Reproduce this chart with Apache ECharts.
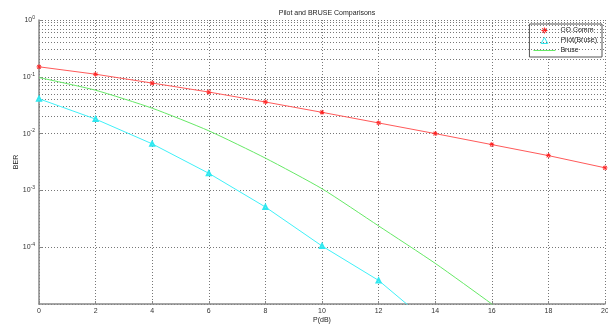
<!DOCTYPE html>
<html>
<head>
<meta charset="utf-8">
<script src="https://cdn.jsdelivr.net/npm/echarts@6/dist/echarts.min.js"></script>
<style>
  html, body { margin: 0; padding: 0; background: #fff; }
  #chart { width: 608px; height: 327px; }
</style>
</head>
<body>
<div id="chart"></div>
<script>
// values (BER vs P in dB)
const pCO = [0, 2, 4, 6, 8, 10, 12, 14, 16, 18, 20];
const berCO = [0.15, 0.111, 0.0776, 0.0539, 0.036, 0.0237, 0.0154, 0.0100, 0.0064, 0.0041, 0.0025];

const pPilot = [0, 2, 4, 6, 8, 10, 12, 14];
const berPilot = [0.041, 0.018, 0.0066, 0.0020, 5.1e-4, 1.05e-4, 2.6e-5, 3.8e-6];

const pBruse = [0, 2, 4, 6, 8, 10, 12, 14, 16, 18, 20];
const berBruse = [0.097, 0.058, 0.028, 0.0112, 0.0037, 1.07e-3, 2.37e-4, 5.2e-5, 1e-5, 1.8e-6, 3e-7];

const decades = [-5, -4, -3, -2, -1, 0];

const FONT = 'Liberation Sans';
const RED = '#ff2020';
const CYAN = '#30e8f0';
const GREEN = '#66e866';
const dotted = { color: '#777', width: 1, type: [1, 2] };
const asterisk = 'path://M-5,-0.8H5V0.8H-5Z M-0.8,-5H0.8V5H-0.8Z M-4.2,-3L-3,-4.2L4.2,3L3,4.2Z M4.2,-3L3,-4.2L-4.2,3L-3,4.2Z';
const triangle = 'path://M0,-5L5,4L-5,4Z';
const dash = 'path://M-11,-0.5H11V0.5H-11Z';

// minor log grid lines 2..9 x 10^k, like matlab's grid on
const minorLines = [];
decades.slice(0, -1).forEach(k => {
  for (let m = 2; m <= 9; m++) minorLines.push({ yAxis: m * Math.pow(10, k) });
});

const zip = (xs, ys) => xs.map((x, i) => [x, ys[i]]);

const chart = echarts.init(document.getElementById('chart'), null, { renderer: 'canvas' });
chart.setOption({
  animation: false,
  backgroundColor: '#fff',
  textStyle: { fontFamily: FONT },
  title: {
    text: 'Pilot and BRUSE Comparisons',
    left: 322,
    textAlign: 'center',
    top: 5,
    textStyle: { fontSize: 7, fontWeight: 'normal', color: '#222', fontFamily: FONT }
  },
  legend: {
    orient: 'vertical',
    right: 6,
    top: 24,
    padding: [3, 5, 3, 4],
    itemGap: 3,
    itemWidth: 22,
    itemHeight: 6,
    symbolKeepAspect: true,
    borderColor: '#555',
    borderWidth: 1,
    backgroundColor: '#fff',
    textStyle: { fontSize: 7, color: '#222', fontFamily: FONT },
    data: [
      { name: 'CO.Comm', icon: asterisk },
      { name: 'Pilot(Bruse)', icon: triangle, itemStyle: { color: '#fff', borderColor: CYAN, borderWidth: 1 } },
      { name: 'Bruse', icon: dash, itemStyle: { color: GREEN } }
    ]
  },
  grid: { left: 39, right: 3, top: 20, bottom: 23, outerBoundsMode: 'none' },
  xAxis: {
    type: 'value',
    min: 0,
    max: 20,
    interval: 2,
    name: 'P(dB)',
    nameLocation: 'middle',
    nameGap: 13,
    nameMoveOverlap: false,
    nameTextStyle: { fontSize: 7, color: '#222' },
    axisLine: { lineStyle: { color: '#888', width: 1.5 } },
    axisTick: { inside: true, length: 3, lineStyle: { color: '#888' } },
    axisLabel: { fontSize: 7, color: '#333', margin: 4 },
    splitLine: { show: true, lineStyle: dotted }
  },
  yAxis: {
    type: 'log',
    logBase: 10,
    min: 1e-5,
    max: 1,
    interval: 1,
    name: 'BER',
    nameLocation: 'middle',
    nameGap: 19,
    nameMoveOverlap: false,
    nameTextStyle: { fontSize: 7, color: '#222' },
    axisLine: { show: true, lineStyle: { color: '#888', width: 1.5 } },
    axisTick: { inside: true, length: 3, lineStyle: { color: '#888' } },
    axisLabel: {
      margin: 4,
      showMinLabel: false,
      formatter: v => '{b|10}{s|' + Math.round(Math.log10(v)) + '}',
      rich: {
        b: { fontSize: 7, color: '#333', fontFamily: FONT },
        s: { fontSize: 5, color: '#333', fontFamily: FONT, padding: [0, 0, 5, 0] }
      }
    },
    splitLine: { show: true, lineStyle: dotted }
  },
  series: [
    {
      name: 'minor-grid',
      type: 'line',
      data: [],
      silent: true,
      z: 1,
      markLine: {
        silent: true,
        symbol: 'none',
        label: { show: false },
        lineStyle: dotted,
        emphasis: { disabled: true },
        data: minorLines
      }
    },
    {
      name: 'CO.Comm',
      type: 'line',
      data: zip(pCO, berCO),
      symbol: asterisk,
      symbolSize: 5,
      symbolKeepAspect: true,
      z: 5,
      itemStyle: { color: RED },
      lineStyle: { color: '#ff5a5a', width: 1 }
    },
    {
      name: 'Pilot(Bruse)',
      type: 'line',
      data: zip(pPilot, berPilot),
      symbol: 'emptyTriangle',
      symbolSize: 4,
      clip: true,
      z: 5,
      itemStyle: { color: CYAN, borderColor: CYAN, borderWidth: 1 },
      lineStyle: { color: '#40f0f8', width: 1 }
    },
    {
      name: 'Bruse',
      type: 'line',
      data: zip(pBruse, berBruse),
      symbol: 'none',
      smooth: 0.2,
      clip: true,
      z: 5,
      itemStyle: { color: GREEN },
      lineStyle: { color: GREEN, width: 1 }
    }
  ]
});
</script>
</body>
</html>
